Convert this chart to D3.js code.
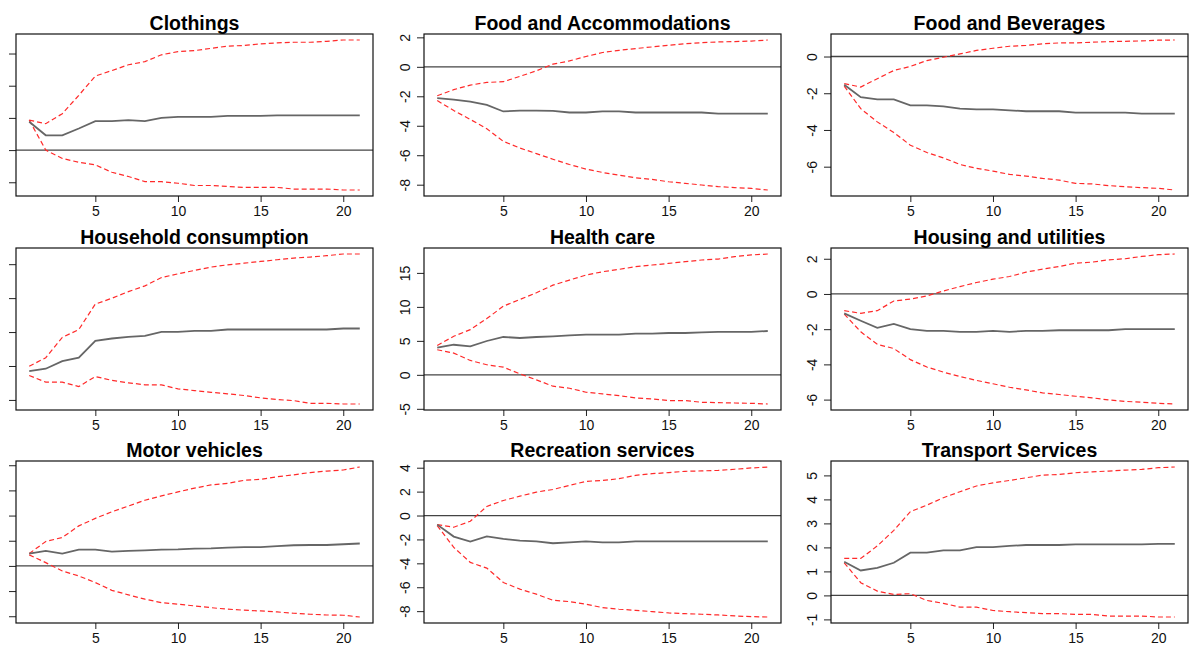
<!DOCTYPE html>
<html lang="en">
<head>
  <meta charset="UTF-8">
  <title>Impulse responses</title>
  <style>
    body { margin: 0; background: #fff; }
    text { font-family: "Liberation Sans", Arial, sans-serif; }
  </style>
</head>
<body>
<script src="https://d3js.org/d3.v7.min.js"></script>
<div id="chart"></div>

<script>
// DATA =========================================================================
const steps = d3.range(1, 22);

const clothingsIrf   = [0.88,0.46,0.46,0.67,0.90,0.90,0.93,0.90,1.00,1.03,1.03,1.03,1.06,1.06,1.06,1.08,1.08,1.08,1.08,1.08,1.08];
const clothingsUpper = [0.93,0.82,1.13,1.70,2.30,2.47,2.65,2.75,2.96,3.06,3.09,3.16,3.23,3.25,3.30,3.33,3.35,3.35,3.38,3.42,3.42];
const clothingsLower = [0.93,0.00,-0.26,-0.38,-0.46,-0.69,-0.82,-0.98,-0.98,-1.03,-1.10,-1.10,-1.13,-1.16,-1.16,-1.16,-1.21,-1.21,-1.21,-1.24,-1.24];

const foodAccIrf   = [-2.13,-2.22,-2.36,-2.58,-3.03,-2.97,-2.97,-2.99,-3.10,-3.10,-3.03,-3.03,-3.10,-3.10,-3.10,-3.10,-3.10,-3.17,-3.17,-3.17,-3.17];
const foodAccUpper = [-1.96,-1.55,-1.24,-1.06,-1.01,-0.65,-0.27,0.18,0.40,0.70,0.97,1.12,1.24,1.35,1.46,1.57,1.64,1.69,1.71,1.75,1.82];
const foodAccLower = [-2.29,-2.97,-3.57,-4.20,-5.06,-5.51,-5.89,-6.27,-6.63,-6.94,-7.17,-7.35,-7.53,-7.64,-7.80,-7.91,-8.02,-8.13,-8.20,-8.25,-8.36];

const foodBevIrf   = [-1.54,-2.21,-2.33,-2.33,-2.66,-2.66,-2.71,-2.84,-2.88,-2.88,-2.93,-2.98,-2.98,-2.98,-3.06,-3.06,-3.06,-3.06,-3.11,-3.11,-3.11];
const foodBevUpper = [-1.48,-1.66,-1.21,-0.76,-0.54,-0.22,-0.04,0.14,0.33,0.45,0.56,0.60,0.69,0.74,0.74,0.78,0.81,0.83,0.85,0.89,0.90];
const foodBevLower = [-1.61,-2.84,-3.56,-4.14,-4.83,-5.23,-5.52,-5.88,-6.09,-6.24,-6.42,-6.51,-6.64,-6.73,-6.91,-6.94,-7.03,-7.09,-7.14,-7.18,-7.27];

const householdIrf   = [3.70,3.84,4.29,4.49,5.48,5.62,5.72,5.77,6.01,6.01,6.07,6.07,6.15,6.15,6.15,6.15,6.15,6.15,6.15,6.21,6.21];
const householdUpper = [3.98,4.49,5.68,6.15,7.65,7.99,8.38,8.72,9.21,9.43,9.63,9.83,9.96,10.06,10.16,10.26,10.36,10.42,10.50,10.60,10.60];
const householdLower = [3.44,3.05,3.05,2.79,3.38,3.15,3.01,2.89,2.89,2.65,2.55,2.45,2.36,2.26,2.12,2.02,1.96,1.80,1.80,1.76,1.76];

const healthIrf   = [3.99,4.43,4.19,4.98,5.57,5.42,5.57,5.67,5.81,5.91,5.91,5.91,6.06,6.06,6.16,6.16,6.26,6.31,6.31,6.31,6.45];
const healthUpper = [4.33,5.67,6.65,8.28,10.10,11.08,12.07,13.20,13.94,14.68,15.17,15.52,15.91,16.16,16.40,16.65,16.90,17.04,17.39,17.64,17.78];
const healthLower = [3.69,3.20,2.12,1.48,1.13,0.15,-0.74,-1.67,-1.97,-2.56,-2.81,-3.05,-3.40,-3.55,-3.79,-3.79,-4.04,-4.09,-4.14,-4.19,-4.29];

const housingIrf   = [-1.10,-1.52,-1.92,-1.70,-2.00,-2.10,-2.10,-2.15,-2.15,-2.10,-2.15,-2.10,-2.10,-2.06,-2.06,-2.06,-2.06,-2.00,-2.00,-2.00,-2.00];
const housingUpper = [-0.95,-1.10,-0.95,-0.40,-0.29,-0.11,0.17,0.42,0.65,0.84,0.99,1.24,1.41,1.56,1.75,1.81,1.94,2.00,2.13,2.23,2.27];
const housingLower = [-1.14,-2.15,-2.86,-3.10,-3.73,-4.15,-4.44,-4.69,-4.91,-5.10,-5.30,-5.45,-5.62,-5.71,-5.81,-5.90,-6.02,-6.10,-6.15,-6.21,-6.25];

const motorIrf   = [0.49,0.60,0.49,0.65,0.65,0.57,0.60,0.62,0.65,0.66,0.69,0.70,0.73,0.75,0.75,0.79,0.82,0.83,0.83,0.86,0.89];
const motorUpper = [0.49,0.97,1.13,1.59,1.89,2.15,2.38,2.61,2.78,2.94,3.09,3.22,3.28,3.40,3.44,3.54,3.62,3.71,3.77,3.81,3.93];
const motorLower = [0.44,0.13,-0.20,-0.40,-0.66,-0.97,-1.15,-1.32,-1.46,-1.52,-1.59,-1.66,-1.72,-1.76,-1.79,-1.83,-1.88,-1.92,-1.95,-1.96,-2.03];

const recreationIrf   = [-0.76,-1.76,-2.18,-1.74,-1.96,-2.10,-2.16,-2.32,-2.24,-2.16,-2.24,-2.24,-2.16,-2.16,-2.16,-2.16,-2.16,-2.16,-2.16,-2.16,-2.16];
const recreationUpper = [-0.76,-0.98,-0.48,0.76,1.26,1.62,1.96,2.18,2.52,2.86,2.94,3.08,3.36,3.50,3.59,3.70,3.73,3.78,3.87,3.98,4.06];
const recreationLower = [-0.84,-2.66,-3.92,-4.40,-5.60,-6.16,-6.58,-7.09,-7.20,-7.42,-7.70,-7.84,-7.93,-8.04,-8.15,-8.21,-8.26,-8.32,-8.40,-8.46,-8.49];

const transportIrf   = [1.40,1.04,1.15,1.36,1.78,1.78,1.88,1.88,2.01,2.01,2.06,2.10,2.10,2.10,2.13,2.13,2.13,2.13,2.13,2.15,2.15];
const transportUpper = [1.54,1.54,2.06,2.71,3.49,3.76,4.07,4.32,4.56,4.69,4.79,4.90,5.01,5.04,5.11,5.15,5.18,5.22,5.25,5.32,5.35];
const transportLower = [1.36,0.53,0.18,0.04,0.07,-0.21,-0.33,-0.49,-0.49,-0.63,-0.68,-0.72,-0.76,-0.76,-0.79,-0.79,-0.86,-0.86,-0.86,-0.90,-0.90];

const panels = [
  {title: "Clothings",              irf: clothingsIrf,  upper: clothingsUpper,  lower: clothingsLower,  yLabels: false},
  {title: "Food and Accommodations", irf: foodAccIrf,    upper: foodAccUpper,    lower: foodAccLower,    yLabels: true},
  {title: "Food and Beverages",     irf: foodBevIrf,    upper: foodBevUpper,    lower: foodBevLower,    yLabels: true},
  {title: "Household consumption",  irf: householdIrf,  upper: householdUpper,  lower: householdLower,  yLabels: false},
  {title: "Health care",            irf: healthIrf,     upper: healthUpper,     lower: healthLower,     yLabels: true},
  {title: "Housing and utilities",  irf: housingIrf,    upper: housingUpper,    lower: housingLower,    yLabels: true},
  {title: "Motor vehicles",         irf: motorIrf,      upper: motorUpper,      lower: motorLower,      yLabels: false},
  {title: "Recreation services",    irf: recreationIrf, upper: recreationUpper, lower: recreationLower, yLabels: true},
  {title: "Transport Services",     irf: transportIrf,  upper: transportUpper,  lower: transportLower,  yLabels: true}
];

// LAYOUT =======================================================================
const W = 1193, H = 650;
const colLeft = [16, 424, 831], rowTop = [34, 248, 461];
const pw = 357, ph = 162;

const svg = d3.select("#chart").append("svg")
    .attr("width", W).attr("height", H);

// R style axis range: data range padded by 4% on each side
function rRange(lo, hi) {
  const pad = (hi - lo) * 0.04;
  return [lo - pad, hi + pad];
}

panels.forEach((p, i) => {
  const g = svg.append("g")
      .attr("transform", `translate(${colLeft[i % 3]},${rowTop[Math.floor(i / 3)]})`);

  const x = d3.scaleLinear().domain(rRange(1, 21)).range([0, pw]);
  const all = p.irf.concat(p.upper, p.lower);
  const y = d3.scaleLinear().domain(rRange(d3.min(all), d3.max(all))).range([ph, 0]);

  // axes (plain hyphen for negatives, as R prints them)
  const xAxis = g.append("g")
      .attr("transform", `translate(0,${ph})`)
      .call(d3.axisBottom(x).tickValues([5, 10, 15, 20]).tickSize(6).tickPadding(4));
  const yAxis = g.append("g")
      .call(d3.axisLeft(y).ticks(5).tickSize(7).tickPadding(4)
        .tickFormat(p.yLabels ? d => String(d) : ""));
  [xAxis, yAxis].forEach(a => {
    a.select(".domain").remove();
    a.selectAll("line").attr("stroke", "#222");
    a.selectAll("text").attr("fill", "#111").style("font-size", "14px")
      .style("font-family", '"Liberation Sans", Arial, sans-serif');
  });
  yAxis.selectAll("text")
      .attr("text-anchor", "middle")
      .attr("x", null).attr("dy", null)
      .attr("transform", "translate(-14,0) rotate(-90)");

  // zero line
  if (y.domain()[0] < 0 && y.domain()[1] > 0) {
    g.append("line")
        .attr("x1", 0).attr("x2", pw)
        .attr("y1", y(0)).attr("y2", y(0))
        .attr("stroke", "#444").attr("stroke-width", 1.3);
  }

  const line = d3.line().x((d, j) => x(steps[j])).y(d => y(d));

  g.append("path").datum(p.upper)
      .attr("d", line).attr("fill", "none")
      .attr("stroke", "#ff2a2a").attr("stroke-width", 1.2).attr("stroke-dasharray", "5,3");
  g.append("path").datum(p.lower)
      .attr("d", line).attr("fill", "none")
      .attr("stroke", "#ff2a2a").attr("stroke-width", 1.2).attr("stroke-dasharray", "5,3");
  g.append("path").datum(p.irf)
      .attr("d", line).attr("fill", "none")
      .attr("stroke", "#666").attr("stroke-width", 1.8);

  // box
  g.append("rect")
      .attr("width", pw).attr("height", ph)
      .attr("fill", "none").attr("stroke", "#111").attr("stroke-width", 1.2);

  // title
  g.append("text")
      .attr("x", pw / 2).attr("y", -4)
      .attr("text-anchor", "middle")
      .style("font-size", "19.5px").style("font-weight", "bold")
      .text(p.title);
});
</script>
</body>
</html>
